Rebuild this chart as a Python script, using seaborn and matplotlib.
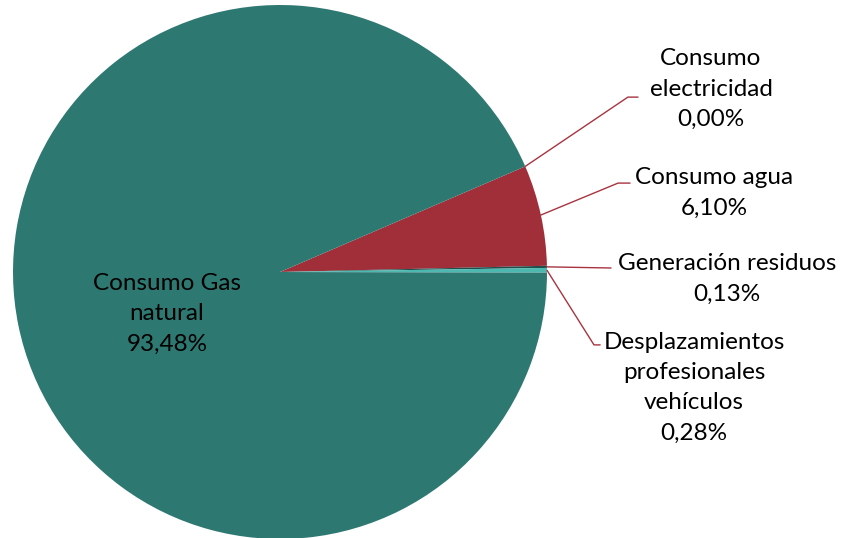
import numpy as np
import matplotlib.pyplot as plt
import seaborn as sns

sns.set_style('white')
plt.rcParams['font.family'] = ['Lato', 'DejaVu Sans']

# datos
categorias = ['Consumo\nelectricidad', 'Consumo agua', 'Generación residuos',
              'Desplazamientos\nprofesionales\nvehículos', 'Consumo Gas\nnatural']
porcentajes = [0.00, 6.10, 0.13, 0.28, 93.48]
colores = ['#3B6E8F', '#A12F3A', '#1F4F4C', '#4DB8B0', '#2E7872']

fig = plt.figure(figsize=(8.48, 5.38), dpi=100)
ax = fig.add_axes([0, 0, 1, 1])

cuñas, _ = ax.pie(porcentajes, colors=colores, startangle=23.3, counterclock=False,
                  radius=1, wedgeprops={'linewidth': 0})

ax.set_xlim(-280 / 267, (848 - 280) / 267)
ax.set_ylim((272 - 538) / 267, 272 / 267)
ax.set_aspect('equal')
ax.axis('off')

def etiqueta(nombre, valor):
    return f'{nombre}\n{valor:.2f}%'.replace('.', ',')

# posiciones de texto y codos de las líneas guía
textos = [(1.614, 0.685), (1.625, 0.296), (1.674, -0.026), (1.551, -0.434), (-0.423, -0.157)]
codos = [[(1.303, 0.655), (1.341, 0.655)],
         [(1.266, 0.333), (1.311, 0.333)],
         [(1.24, 0.015)],
         [(1.176, -0.273), (1.199, -0.273)],
         None]

for cuña, nombre, valor, pos, codo in zip(cuñas, categorias, porcentajes, textos, codos):
    ax.text(pos[0], pos[1], etiqueta(nombre, valor), ha='center', va='center',
            fontsize=17.5, linespacing=1.54, color='#000000')
    if codo is None:
        continue
    ang = np.deg2rad((cuña.theta1 + cuña.theta2) / 2)
    xs = [np.cos(ang)] + [p[0] for p in codo]
    ys = [np.sin(ang)] + [p[1] for p in codo]
    ax.plot(xs, ys, color='#A83440', lw=1)

plt.savefig('out.png', dpi=100)
plt.close()
